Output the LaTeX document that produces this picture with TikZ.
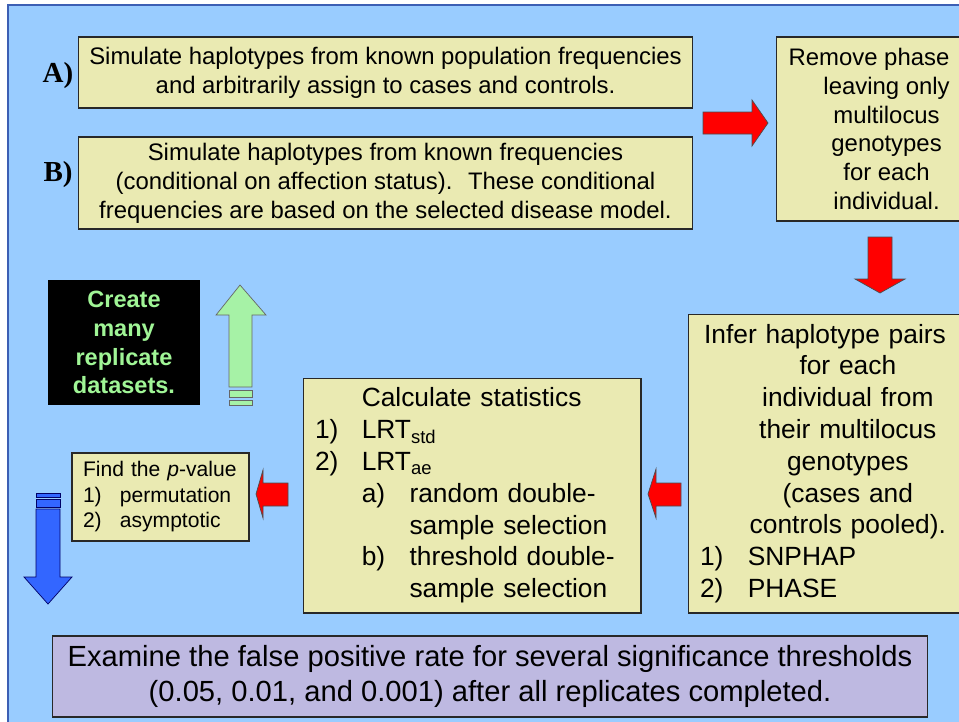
\documentclass[tikz,border=0pt]{standalone}
\usepackage{fontspec}
\setmainfont{Liberation Sans}
\newfontfamily\labelserif{Liberation Serif}
\usepackage{xcolor}
\usepackage{tikz}

\definecolor{slideblue}{RGB}{153,204,255}
\definecolor{slideedge}{RGB}{60,95,180}
\definecolor{panelfill}{RGB}{234,234,178}
\definecolor{panelline}{RGB}{40,40,40}
\definecolor{lilac}{RGB}{190,185,225}
\definecolor{mint}{RGB}{166,242,166}
\definecolor{minttext}{RGB}{160,245,150}
\definecolor{arrowblue}{RGB}{51,102,255}

\newcommand{\midfont}{\fontsize{13.6pt}{16.4pt}\selectfont}
\newcommand{\bigfont}{\fontsize{15pt}{18.1pt}\selectfont}
\newcommand{\notefont}{\fontsize{12pt}{14.5pt}\selectfont}
\newcommand{\footfont}{\fontsize{16.6pt}{19.8pt}\selectfont}

\begin{document}
\begin{tikzpicture}[x=0.02cm, y=-0.02cm,
    panel/.style={draw=panelline, line width=0.6pt, fill=panelfill, inner sep=0pt},
    tag/.style={font=\labelserif\bfseries\fontsize{16.5pt}{18pt}\selectfont, inner sep=0pt}]
    \clip (0,0) rectangle (959,721);
    \fill[white] (0,0) rectangle (959,721);
    \draw[fill=slideblue, draw=slideedge, line width=0.6pt] (8,5) rectangle (980,740); %slide%

    % simulation boxes
    \node[panel, align=center, font=\midfont, minimum width=12.3cm, minimum height=1.42cm] (simA) at (385.5,72.5)
        {Simulate haplotypes from known population frequencies\\ and arbitrarily assign to cases and controls.};
    \node[panel, align=center, font=\midfont, minimum width=12.3cm, minimum height=1.84cm] (simB) at (385.5,183)
        {Simulate haplotypes from known frequencies\\ (conditional on affection status).~ These conditional\\ frequencies are based on the selected disease model.};
    \node[tag] (tagA) at (58,76) {A)};
    \node[tag] (tagB) at (58,175) {B)};

    % remove phase
    \node[panel, align=center, font=\midfont, minimum width=3.72cm, minimum height=3.68cm] (unphase) at (869,129)
        {Remove phase\\ \hspace*{20pt}leaving only\\ \hspace*{20pt}multilocus\\ \hspace*{20pt}genotypes\\ \hspace*{20pt}for each\\ \hspace*{20pt}individual.};

    % infer haplotypes
    \node[panel, align=left, font=\bigfont, text width=5.0cm, inner xsep=0.24cm, minimum height=5.98cm] (infer) at (825,463.5)
        {\makebox[\hsize]{Infer haplotype pairs}\\
         \makebox[\hsize]{\hspace*{26pt}for each}\\
         \makebox[\hsize]{\hspace*{26pt}individual from}\\
         \makebox[\hsize]{\hspace*{26pt}their multilocus}\\
         \makebox[\hsize]{\hspace*{26pt}genotypes}\\
         \makebox[\hsize]{\hspace*{26pt}(cases and}\\
         \makebox[\hsize]{\hspace*{26pt}controls pooled).}\\
         \makebox[27.2pt][l]{1)}SNPHAP\\
         \makebox[27.2pt][l]{2)}PHASE};

    % statistics
    \node[panel, align=left, font=\bigfont, text width=6.28cm, inner xsep=0.24cm, minimum height=4.7cm] (stats) at (472,495.5)
        {\hspace*{26.6pt}Calculate statistics\\
         \makebox[26.6pt][l]{1)}LRT\textsubscript{std}\\
         \makebox[26.6pt][l]{2)}LRT\textsubscript{ae}\\
         \hspace*{26.6pt}\makebox[27.2pt][l]{a)}random double-\\
         \hspace*{53.8pt}sample selection\\
         \hspace*{26.6pt}\makebox[27.2pt][l]{b)}threshold double-\\
         \hspace*{53.8pt}sample selection};

    % p-value
    \node[panel, align=left, font=\notefont, text width=3.1cm, inner xsep=0.22cm, minimum height=1.76cm] (pval) at (160.5,497)
        {Find the \textit{p}-value\\
         \makebox[21pt][l]{1)}permutation\\
         \makebox[21pt][l]{2)}asymptotic};

    \node[fill=black, align=center, text=minttext, font=\bfseries\fontsize{13.4pt}{16.4pt}\selectfont,
        minimum width=3.04cm, minimum height=2.5cm, inner sep=0pt] (many) at (124,342.5)
        {Create\\ many\\ replicate\\ datasets.};

    \node[panel, fill=lilac, align=center, font=\footfont, minimum width=17.52cm, minimum height=1.62cm] (fpr) at (490,676.5)
        {Examine the false positive rate for several significance thresholds\\ (0.05, 0.01, and 0.001) after all replicates completed.};

    % block arrows
    \draw[fill=red, draw=black!70, line width=0.4pt] (703,112) -- (752,112) -- (752,100) -- (768,123) -- (752,146) -- (752,134) -- (703,134) -- cycle;
    \draw[fill=red, draw=black!70, line width=0.4pt] (868,237) -- (892,237) -- (892,279) -- (905,279) -- (880,293) -- (855,279) -- (868,279) -- cycle;
    \draw[fill=red, draw=black!70, line width=0.4pt] (648,494) -- (656,469) -- (656,483) -- (681,483) -- (681,506) -- (656,506) -- (656,518) -- cycle;
    \draw[fill=red, draw=black!70, line width=0.4pt] (256,494) -- (263,470) -- (263,483) -- (288,483) -- (288,506) -- (263,506) -- (263,518) -- cycle;

    \draw[fill=mint, draw=black!60, line width=0.4pt] (240,285) -- (266,315) -- (252,315) -- (252,387) -- (229,387) -- (229,315) -- (216,315) -- cycle; %repeat%
    \draw[fill=mint, draw=black!60, line width=0.4pt] (229,390) rectangle (252,397);
    \draw[fill=mint, draw=black!60, line width=0.4pt] (229,400) rectangle (252,405);

    \draw[fill=arrowblue, draw=blue!40!black, line width=0.4pt] (36,493) rectangle (60,497);
    \draw[fill=arrowblue, draw=blue!40!black, line width=0.4pt] (36,499) rectangle (60,507);
    \draw[fill=arrowblue, draw=blue!40!black, line width=0.4pt] (36,509) -- (60,509) -- (60,577) -- (72,577) -- (48,604) -- (24,577) -- (36,577) -- cycle; %next%
\end{tikzpicture}
\end{document}
